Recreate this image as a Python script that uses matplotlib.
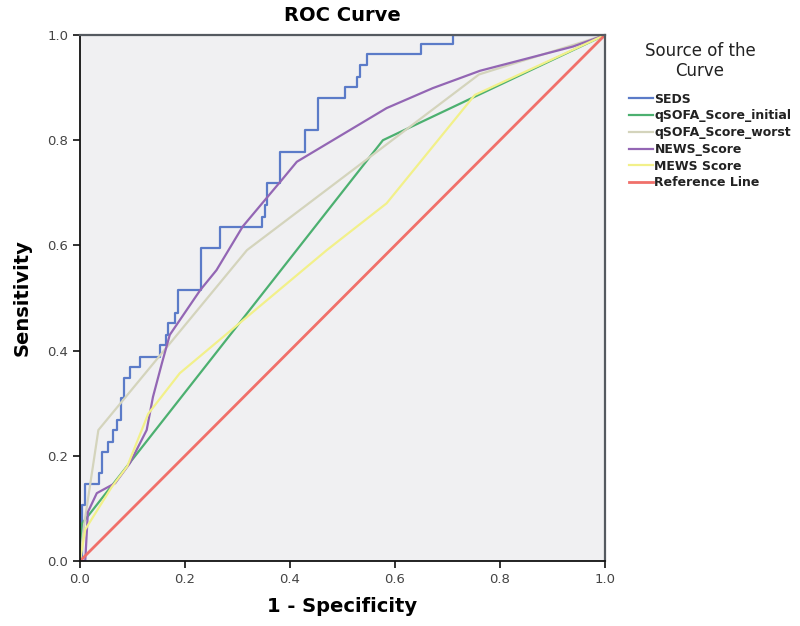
import matplotlib
matplotlib.use("Agg")
import matplotlib.pyplot as plt

# ROC curve data (1 - specificity, sensitivity)
seds_fpr = [0.0, 0.003, 0.0095, 0.036, 0.041, 0.053, 0.063, 0.07, 0.078, 0.084,
            0.095, 0.114, 0.152, 0.163, 0.168, 0.181, 0.187, 0.23, 0.267, 0.346,
            0.352, 0.356, 0.381, 0.429, 0.454, 0.505, 0.527, 0.533, 0.546, 0.649,
            0.711, 1.0]
seds_tpr = [0.0, 0.106, 0.146, 0.167, 0.207, 0.226, 0.249, 0.268, 0.31, 0.348,
            0.369, 0.388, 0.41, 0.43, 0.452, 0.471, 0.515, 0.595, 0.635, 0.654,
            0.677, 0.718, 0.778, 0.819, 0.88, 0.902, 0.921, 0.943, 0.963, 0.983,
            1.0, 1.0]

qsofa_init_fpr = [0.0, 0.003, 0.577, 1.0]
qsofa_init_tpr = [0.0, 0.07, 0.80, 1.0]

qsofa_worst_fpr = [0.0, 0.008, 0.035, 0.318, 0.76, 1.0]
qsofa_worst_tpr = [0.0, 0.07, 0.249, 0.591, 0.925, 1.0]

news_fpr = [0.0, 0.01, 0.015, 0.032, 0.067, 0.095, 0.127, 0.139, 0.156, 0.171,
            0.229, 0.26, 0.31, 0.352, 0.384, 0.413, 0.584, 0.672, 0.762, 0.939, 1.0]
news_tpr = [0.0, 0.0, 0.093, 0.129, 0.148, 0.186, 0.249, 0.312, 0.376, 0.43,
            0.515, 0.553, 0.636, 0.686, 0.724, 0.759, 0.861, 0.899, 0.932, 0.978, 1.0]

mews_fpr = [0.0, 0.01, 0.06, 0.09, 0.13, 0.19, 0.47, 0.584, 0.752, 1.0]
mews_tpr = [0.0, 0.06, 0.14, 0.18, 0.28, 0.357, 0.591, 0.68, 0.886, 1.0]

ref_x = [0.0, 1.0]
ref_y = [0.0, 1.0]

fig = plt.figure(figsize=(8, 6.26), dpi=100)
ax = fig.add_axes([0.1, 0.1038, 0.65625, 0.8403])
ax.set_facecolor('#F0F0F2')

ax.plot(seds_fpr, seds_tpr, drawstyle='steps-post', color='#5B7BC8', lw=1.6, label='SEDS')
ax.plot(qsofa_init_fpr, qsofa_init_tpr, color='#4CB070', lw=1.6, label='qSOFA_Score_initial')
ax.plot(qsofa_worst_fpr, qsofa_worst_tpr, color='#D4D4BC', lw=1.6, label='qSOFA_Score_worst')
ax.plot(news_fpr, news_tpr, color='#9366B4', lw=1.6, label='NEWS_Score')
ax.plot(mews_fpr, mews_tpr, color='#F2F08A', lw=1.6, label='MEWS Score')
ax.plot(ref_x, ref_y, color='#F0706A', lw=2, label='Reference Line')

ax.set_xlim(0, 1)
ax.set_ylim(0, 1)
ticks = [0.0, 0.2, 0.4, 0.6, 0.8, 1.0]
ax.set_xticks(ticks)
ax.set_yticks(ticks)
ax.set_xticklabels(['%.1f' % t for t in ticks])
ax.set_yticklabels(['%.1f' % t for t in ticks])
ax.tick_params(direction='out', length=5, width=1.3, labelsize=9.5, colors='#222222',
               labelcolor='#444444')

for side in ['left', 'bottom']:
    ax.spines[side].set_color('#111111')
    ax.spines[side].set_linewidth(1.3)
for side in ['top', 'right']:
    ax.spines[side].set_color('#555a60')
    ax.spines[side].set_linewidth(1.6)

ax.set_title('ROC Curve', fontsize=14, fontweight='bold', pad=10)
ax.set_xlabel('1 - Specificity', fontsize=14, fontweight='bold', labelpad=8)
ax.set_ylabel('Sensitivity', fontsize=14, fontweight='bold', labelpad=11)

# legend title drawn separately so its spacing can match the reference
fig.text(0.875, 1 - 61 / 626, 'Source of the\nCurve', ha='center', va='center',
         fontsize=12, color='#222222', linespacing=1.1)

leg = fig.legend(loc='upper left', bbox_to_anchor=(0.772, 0.87), frameon=False,
                 fontsize=9, handlelength=1.9, handletextpad=0.15, labelspacing=0.3)
for t in leg.get_texts():
    t.set_color('#222222')
    t.set_fontweight('bold')

fig.savefig('out.png', dpi=100)
